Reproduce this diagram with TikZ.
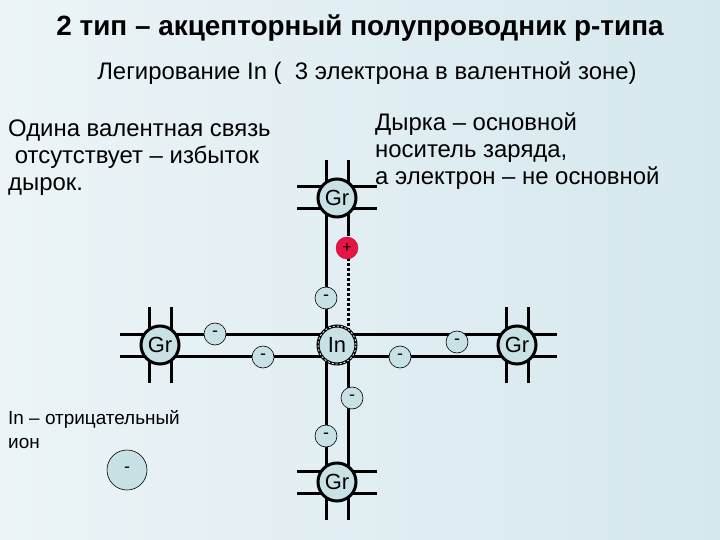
\documentclass[tikz,border=0pt]{standalone}
\usepackage{fontspec}
\setmainfont{Liberation Sans}
\definecolor{bgA}{RGB}{236,244,247}
\definecolor{bgB}{RGB}{214,232,238}
\definecolor{ball}{RGB}{200,225,228}
\definecolor{hole}{RGB}{232,20,70}
\begin{document}
\begin{tikzpicture}[x=1bp,y=-1bp,
  bond/.style={line width=3bp},
  atom/.style={circle,draw,line width=3bp,fill=ball,minimum size=38bp,inner sep=0pt,font=\fontsize{22}{22}\selectfont},
  elec/.style={circle,draw,line width=0.6bp,fill=ball,minimum size=22bp,inner sep=0pt,font=\fontsize{18}{18}\selectfont},
  txt/.style={font=\fontsize{24}{27}\selectfont,align=left,inner sep=0pt}]
\shade[left color=bgA,right color=bgB] (0,0) rectangle (720,540);
\useasboundingbox (0,0) rectangle (720,540);
% bonds
\draw[bond] (160,334) -- (517,334);
\draw[bond] (160,356) -- (517,356);
\draw[bond] (326,198) -- (326,482);
\draw[bond] (348,345) -- (348,482);
\draw[bond,dash pattern=on 3bp off 2bp] (348,198) -- (348,345);
% stubs
\foreach \cx/\cy in {337/198,160/345,517/345,337/482}{
  \draw[bond] (\cx-11,\cy-38) -- (\cx-11,\cy+38);
  \draw[bond] (\cx+11,\cy-38) -- (\cx+11,\cy+38);
  \draw[bond] (\cx-40,\cy-11) -- (\cx+40,\cy-11);
  \draw[bond] (\cx-40,\cy+11) -- (\cx+40,\cy+11);
}
\node[atom] (g1) at (337,198) {Gr};
\node[atom] (g2) at (160,345) {Gr};
\node[atom] (g3) at (517,345) {Gr};
\node[atom] (g4) at (337,482) {Gr};
\node[atom,draw=none] (in) at (337,345) {In};
\draw[line width=3bp] (in) circle (19bp);
\draw[white,line width=0.8bp,dash pattern=on 2bp off 2bp] (in) circle (19bp);
\node[elec] (e1) at (326,298) {-};
\node[elec] (e2) at (352,398) {-};
\node[elec] (e3) at (326,436) {-};
\node[elec] (e4) at (215,334) {-};
\node[elec] (e5) at (263,357) {-};
\node[elec] (e6) at (400,357) {-};
\node[elec] (e7) at (457,342) {-};
\node[circle,fill=hole,draw=hole!70!black,minimum size=22bp,inner sep=0pt,font=\fontsize{16}{16}\selectfont] (h) at (347,248) {+};
\node[elec,minimum size=40bp] (le) at (127,470) {-};
% texts
\node[font=\bfseries\fontsize{28}{32}\selectfont] (t) at (360,28) {2 тип – акцепторный полупроводник р-типа};
\node[font=\fontsize{24}{28}\selectfont] (st) at (367,73) {Легирование In (\ \ 3 электрона в валентной зоне)};
\node[txt,anchor=north west] (lt) at (8,120) {Одина валентная связь\\\ отсутствует – избыток\\дырок.};
\node[txt,anchor=north west] (rt) at (375,113) {Дырка – основной\\носитель заряда,\\а электрон – не основной};
\node[anchor=north west,inner sep=0pt,align=left,font=\fontsize{19}{24}\selectfont] (lg) at (8,410) {In – отрицательный\\ион};
\end{tikzpicture}
\end{document}
